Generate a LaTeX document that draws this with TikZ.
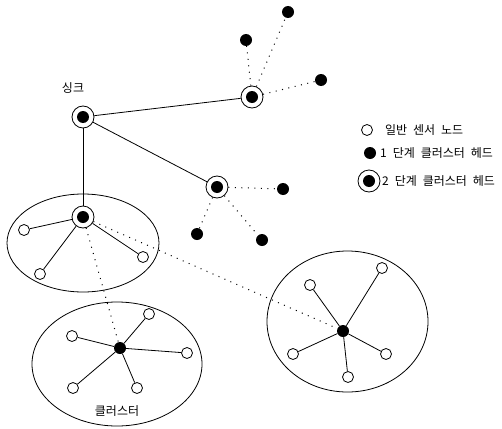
\documentclass[tikz,border=0pt]{standalone}
\usepackage{fontspec}
\newfontfamily\kr[WordSpace=2.2]{Noto Sans CJK KR}
\begin{document}
\begin{tikzpicture}[x=1pt,y=-1pt,
  sensor/.style={circle,draw,fill=white,line width=0.8pt,minimum size=11pt,inner sep=0pt},
  headone/.style={circle,fill=black,minimum size=12pt,inner sep=0pt},
  headtwo/.style={circle,draw,fill=white,line width=0.8pt,minimum size=22pt,inner sep=0pt,
    path picture={\fill[black] (path picture bounding box.center) circle (6pt);}},
  link/.style={line width=0.8pt},
  weak/.style={line width=1pt,dash pattern=on 1pt off 5.5pt},
  zone/.style={line width=0.8pt},
  lbl/.style={font=\kr\fontsize{12}{14}\selectfont,inner sep=0pt}]
\useasboundingbox (0,0) rectangle (502,428);

% cluster boundaries
\draw[zone] (83,243) ellipse [x radius=76, y radius=49];
\draw[zone] (117,364) ellipse [x radius=85, y radius=62];
\draw[zone] (347.5,321.5) ellipse [x radius=80.5, y radius=70.5];

% sink and second-level heads
\node[headtwo] (sink) at (83,117) {};
\node[lbl] (sinklbl) at (73,88) {싱크};
\node[headtwo] (ha) at (252,97) {};
\node[headtwo] (hb) at (217,187) {};
\node[headtwo] (hc) at (83,217) {};

% first-level heads
\node[headone] (a1) at (288,12) {};
\node[headone] (a2) at (246,40) {};
\node[headone] (a3) at (321,80) {};
\node[headone] (b1) at (283,189) {};
\node[headone] (b2) at (197,234) {};
\node[headone] (b3) at (262,240) {};
\node[headone] (c1) at (120,348) {};
\node[headone] (c2) at (343,331) {};

% sensors of the upper left cluster
\node[sensor] (s1) at (24,230) {};
\node[sensor] (s2) at (40,274) {};
\node[sensor] (s3) at (143,257) {};

% sensors of the lower left cluster
\node[sensor] (t1) at (72,336) {};
\node[sensor] (t2) at (149,314) {};
\node[sensor] (t3) at (187,353) {};
\node[sensor] (t4) at (73,388) {};
\node[sensor] (t5) at (137,388) {};

% sensors of the right cluster
\node[sensor] (u1) at (310,285) {};
\node[sensor] (u2) at (382,268) {};
\node[sensor] (u3) at (293,354) {};
\node[sensor] (u4) at (348,377) {};
\node[sensor] (u5) at (386,354) {};

% backbone links from the sink
\draw[link] (sink) -- (ha);
\draw[link] (sink) -- (hb);
\draw[link] (sink) -- (hc);

% dotted links between heads
\draw[weak] (ha) -- (a1);
\draw[weak] (ha) -- (a2);
\draw[weak] (ha) -- (a3);
\draw[weak] (hb) -- (b1);
\draw[weak] (hb) -- (b2);
\draw[weak] (hb) -- (b3);
\draw[weak] (hc) -- (c1);
\draw[weak] (hc) -- (c2);

% cluster members
\foreach \s in {s1,s2,s3} \draw[link] (hc) -- (\s);
\foreach \s in {t1,t2,t3,t4,t5} \draw[link] (c1) -- (\s);
\foreach \s in {u1,u2,u3,u4,u5} \draw[link] (c2) -- (\s);

\node[lbl] (cluslbl) at (117,411) {클러스터};

% legend
\node[sensor] (lg1) at (367,130) {};
\node[headone] (lg2) at (370,153) {};
\node[headtwo] (lg3) at (369,181) {};
\node[lbl,anchor=west] (lt1) at (385,130) {일반 센서 노드};
\node[lbl,anchor=west] (lt2) at (380,153) {1 단계 클러스터 헤드};
\node[lbl,anchor=west] (lt3) at (382,181) {2 단계 클러스터 헤드};
\end{tikzpicture}
\end{document}
